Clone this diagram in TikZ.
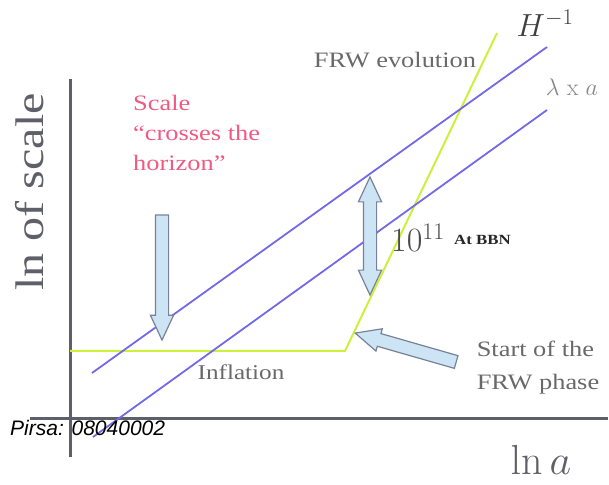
\RequirePackage{fix-cm}
\documentclass[tikz,border=0pt]{standalone}
\usepackage[no-math]{fontspec}
\setmainfont{Liberation Serif}[FakeStretch=1.2]
\newfontfamily\pirsafont{Liberation Sans}
\usetikzlibrary{shapes.arrows}

\definecolor{axisgray}{RGB}{95,95,105}
\definecolor{lineblue}{RGB}{115,105,230}
\definecolor{hgreen}{RGB}{205,240,60}
\definecolor{pinktxt}{RGB}{240,90,130}
\definecolor{graytxt}{RGB}{105,105,105}
\definecolor{arrowfill}{RGB}{205,228,245}
\definecolor{arrowedge}{RGB}{120,130,150}

\begin{document}
\begin{tikzpicture}[
    x=1pt, y=1pt,
    axis/.style={draw=axisgray, line width=3pt},
    scaleline/.style={draw=lineblue, line width=1.8pt},
    horizon/.style={draw=hgreen, line width=2pt},
    fatarrow/.style={single arrow, draw=arrowedge, fill=arrowfill, line width=1.2pt, inner xsep=0pt, inner ysep=6pt, minimum width=0pt, single arrow head extend=5pt, single arrow tip angle=50, single arrow head indent=0pt},
    fatdouble/.style={double arrow, draw=arrowedge, fill=arrowfill, line width=1.2pt, inner xsep=0pt, inner ysep=6pt, minimum width=0pt, double arrow head extend=5pt, double arrow tip angle=50, double arrow head indent=0pt},
    graylabel/.style={inner sep=0pt, text=graytxt, font=\fontsize{22pt}{32pt}\selectfont, align=left},
    pinklabel/.style={inner sep=0pt, text=pinktxt, font=\fontsize{22pt}{30pt}\selectfont, align=left},
    mathlabel/.style={inner sep=0pt, text=graytxt}
  ]
    \useasboundingbox (0,0) rectangle (609,484);

    % AXES
    \coordinate (ytop) at (70,405);
    \coordinate (ybot) at (70,27);
    \coordinate (xleft) at (30,66);
    \coordinate (xright) at (608,66);
    \draw[axis] (ybot) -- (ytop);
    \draw[axis] (xleft) -- (xright);
    \node[inner sep=0pt, rotate=90, font=\fontsize{40pt}{40pt}\selectfont, text=axisgray] (ylab) at (30,292) {ln of scale};
    \node[inner sep=0pt, font=\fontsize{42pt}{42pt}\selectfont, text=axisgray] (xlab) at (541,24) {$\ln a$};

    % HORIZON
    \coordinate (hstart) at (70,133);
    \coordinate (hknee) at (345,133);
    \coordinate (hend) at (497,451);
    \draw[horizon] (hstart) -- (hknee) -- (hend);

    % PHYSICAL SCALES
    \coordinate (upA) at (92,111);
    \coordinate (upB) at (547,437);
    \coordinate (loA) at (93,47);
    \coordinate (loB) at (547,374);
    \draw[scaleline] (upA) -- (upB);
    \draw[scaleline] (loA) -- (loB);

    \node[mathlabel, font=\fontsize{32pt}{32pt}\selectfont, text=black!75] (hinv) at (545,461) {$H^{-1}$};
    \node[mathlabel, font=\fontsize{24pt}{24pt}\selectfont, text=graytxt!80] (lama) at (572,397) {$\lambda\ \mathrm{x}\ a$};
    \node[graylabel] (frw) at (395,424) {FRW evolution};
    \node[graylabel, font=\fontsize{21pt}{21pt}\selectfont] (infl) at (241,112) {Inflation};

    % ARROWS
    \node[fatarrow, minimum height=125pt, rotate=-90] (cross) at (162,213.5) {};
    \node[pinklabel, anchor=west] (scl) at (133,351) {Scale\\``crosses the\\horizon''};

    \node[fatdouble, minimum height=118pt, rotate=90] (gap) at (370,248) {};
    \node[mathlabel, font=\fontsize{34pt}{34pt}\selectfont, text=black!70, anchor=west] (tenp) at (391,246) {$10^{11}$};
    \node[inner sep=0pt, font=\fontsize{14pt}{14pt}\selectfont\bfseries, text=black!85, anchor=west] (bbn) at (454,244) {At BBN};

    \node[fatarrow, minimum height=105pt, rotate=164] (start) at (412.5,134.5) {};
    \node[graylabel, font=\fontsize{22pt}{33pt}\selectfont] (frwph) at (538,116) {Start of the\\FRW phase};

    % WATERMARK
    \node[inner sep=0pt, anchor=west, font=\pirsafont\itshape\fontsize{21pt}{21pt}\selectfont] (pirsa) at (10,56) {Pirsa: 08040002};
\end{tikzpicture}
\end{document}
